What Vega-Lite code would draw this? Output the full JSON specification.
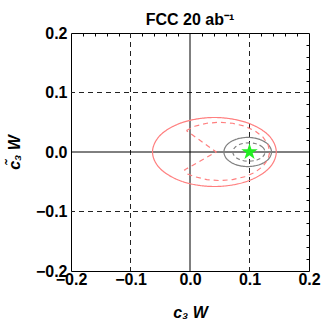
{
  "$schema": "https://vega.github.io/schema/vega-lite/v6.json",
  "width": 238,
  "height": 238,
  "autosize": "none",
  "padding": {"left": 71, "top": 33, "right": 12, "bottom": 53},
  "background": "white",
  "title": {"text": "FCC 20 ab⁻¹", "font": "Liberation Sans", "fontSize": 16, "fontWeight": "bold", "color": "black", "offset": -3},
  "config": {
    "view": {"stroke": "black", "strokeWidth": 1},
    "axis": {
      "labelFont": "Liberation Sans", "labelFontSize": 16, "labelFontWeight": "bold", "labelColor": "black",
      "titleFont": "Liberation Sans", "titleFontSize": 16, "titleFontWeight": "bold", "titleFontStyle": "italic", "titleColor": "black",
      "grid": false, "domain": false, "tickColor": "black", "tickWidth": 1, "labelOverlap": false, "labelBound": false, "labelFlush": false
    }
  },
  "datasets": {
    "curves": [
      {"curve": "red solid", "i": 0, "x": 0.145, "y": 0},
      {"curve": "red solid", "i": 1, "x": 0.1311, "y": 0.029},
      {"curve": "red solid", "i": 2, "x": 0.093, "y": 0.0502},
      {"curve": "red solid", "i": 3, "x": 0.041, "y": 0.058},
      {"curve": "red solid", "i": 4, "x": -0.011, "y": 0.0502},
      {"curve": "red solid", "i": 5, "x": -0.0491, "y": 0.029},
      {"curve": "red solid", "i": 6, "x": -0.063, "y": 0},
      {"curve": "red solid", "i": 7, "x": -0.0491, "y": -0.029},
      {"curve": "red solid", "i": 8, "x": -0.011, "y": -0.0502},
      {"curve": "red solid", "i": 9, "x": 0.041, "y": -0.058},
      {"curve": "red solid", "i": 10, "x": 0.093, "y": -0.0502},
      {"curve": "red solid", "i": 11, "x": 0.1311, "y": -0.029},
      {"curve": "gray solid", "i": 0, "x": 0.137, "y": 0},
      {"curve": "gray solid", "i": 1, "x": 0.1316, "y": 0.0123},
      {"curve": "gray solid", "i": 2, "x": 0.117, "y": 0.0212},
      {"curve": "gray solid", "i": 3, "x": 0.097, "y": 0.0245},
      {"curve": "gray solid", "i": 4, "x": 0.077, "y": 0.0212},
      {"curve": "gray solid", "i": 5, "x": 0.0624, "y": 0.0123},
      {"curve": "gray solid", "i": 6, "x": 0.057, "y": 0},
      {"curve": "gray solid", "i": 7, "x": 0.0624, "y": -0.0123},
      {"curve": "gray solid", "i": 8, "x": 0.077, "y": -0.0212},
      {"curve": "gray solid", "i": 9, "x": 0.097, "y": -0.0245},
      {"curve": "gray solid", "i": 10, "x": 0.117, "y": -0.0212},
      {"curve": "gray solid", "i": 11, "x": 0.1316, "y": -0.0123},
      {"curve": "gray dashed", "i": 0, "x": 0.126, "y": 0},
      {"curve": "gray dashed", "i": 1, "x": 0.1224, "y": 0.0078},
      {"curve": "gray dashed", "i": 2, "x": 0.1125, "y": 0.0134},
      {"curve": "gray dashed", "i": 3, "x": 0.099, "y": 0.0155},
      {"curve": "gray dashed", "i": 4, "x": 0.0855, "y": 0.0134},
      {"curve": "gray dashed", "i": 5, "x": 0.0756, "y": 0.0078},
      {"curve": "gray dashed", "i": 6, "x": 0.072, "y": 0},
      {"curve": "gray dashed", "i": 7, "x": 0.0756, "y": -0.0078},
      {"curve": "gray dashed", "i": 8, "x": 0.0855, "y": -0.0134},
      {"curve": "gray dashed", "i": 9, "x": 0.099, "y": -0.0155},
      {"curve": "gray dashed", "i": 10, "x": 0.1125, "y": -0.0134},
      {"curve": "gray dashed", "i": 11, "x": 0.1224, "y": -0.0078}
    ],
    "reddash": [
      {"i": 0, "x": -0.006, "y": 0.036},
      {"i": 1, "x": 0.008, "y": 0.0433},
      {"i": 2, "x": 0.0283, "y": 0.0483},
      {"i": 3, "x": 0.05, "y": 0.05},
      {"i": 4, "x": 0.0717, "y": 0.0483},
      {"i": 5, "x": 0.092, "y": 0.0433},
      {"i": 6, "x": 0.1094, "y": 0.0354},
      {"i": 7, "x": 0.1227, "y": 0.025},
      {"i": 8, "x": 0.1311, "y": 0.0129},
      {"i": 9, "x": 0.134, "y": 0},
      {"i": 10, "x": 0.1311, "y": -0.0124},
      {"i": 11, "x": 0.1227, "y": -0.024},
      {"i": 12, "x": 0.1094, "y": -0.034},
      {"i": 13, "x": 0.092, "y": -0.0416},
      {"i": 14, "x": 0.0717, "y": -0.0464},
      {"i": 15, "x": 0.05, "y": -0.048},
      {"i": 16, "x": 0.0283, "y": -0.0464},
      {"i": 17, "x": 0.008, "y": -0.0416},
      {"i": 18, "x": -0.004, "y": -0.037},
      {"i": 19, "x": -0.009, "y": -0.03},
      {"i": 20, "x": 0.044, "y": 0},
      {"i": 21, "x": -0.006, "y": 0.036}
    ]
  },
  "layer": [
    {
      "data": {"values": [{"x": -0.1}, {"x": 0.1}]},
      "mark": {"type": "rule", "color": "#222", "strokeDash": [5, 4], "strokeWidth": 1},
      "encoding": {
        "x": {"field": "x", "type": "quantitative",
          "scale": {"domain": [-0.2, 0.2], "nice": false, "zero": false},
          "axis": {"orient": "bottom", "title": "c₃ W", "titlePadding": 17,
            "values": [-0.2, -0.1, 0, 0.1, 0.2],
            "labelExpr": "replace(format(datum.value, '.1f'), '-', '−')",
            "ticks": false, "labelPadding": 0}
        }
      }
    },
    {
      "data": {"values": [{"y": -0.1}, {"y": 0.1}]},
      "mark": {"type": "rule", "color": "#222", "strokeDash": [5, 4], "strokeWidth": 1},
      "encoding": {
        "y": {"field": "y", "type": "quantitative",
          "scale": {"domain": [-0.2, 0.2], "nice": false, "zero": false},
          "axis": {"orient": "left", "title": "c̃₃ W", "titlePadding": 13,
            "values": [-0.2, -0.1, 0, 0.1, 0.2],
            "labelExpr": "replace(format(datum.value, '.1f'), '-', '−')",
            "ticks": false, "labelPadding": 4}
        }
      }
    },
    {
      "data": {"values": [{"x": 0}]},
      "mark": {"type": "rule", "color": "black", "strokeWidth": 1},
      "encoding": {"x": {"field": "x", "type": "quantitative",
        "axis": {"orient": "top", "title": null, "labels": false, "tickSize": -3,
          "values": [-0.18, -0.16, -0.14, -0.12, -0.08, -0.06, -0.04, -0.02, 0.02, 0.04, 0.06, 0.08, 0.12, 0.14, 0.16, 0.18]}}}
    },
    {
      "data": {"values": [{"y": 0}]},
      "mark": {"type": "rule", "color": "black", "strokeWidth": 1},
      "encoding": {"y": {"field": "y", "type": "quantitative",
        "axis": {"orient": "right", "title": null, "labels": false, "tickSize": -3,
          "values": [-0.18, -0.16, -0.14, -0.12, -0.08, -0.06, -0.04, -0.02, 0.02, 0.04, 0.06, 0.08, 0.12, 0.14, 0.16, 0.18]}}}
    },
    {
      "data": {"name": "curves"},
      "mark": {"type": "line", "interpolate": "cardinal-closed", "strokeWidth": 1.2},
      "encoding": {
        "x": {"field": "x", "type": "quantitative", "axis": null},
        "y": {"field": "y", "type": "quantitative", "axis": null},
        "order": {"field": "i", "type": "quantitative"},
        "detail": {"field": "curve"},
        "color": {"field": "curve", "type": "nominal", "legend": null,
          "scale": {"domain": ["red solid", "gray solid", "gray dashed"], "range": ["#ff7f7f", "#808080", "#808080"]}},
        "strokeDash": {"field": "curve", "type": "nominal", "legend": null,
          "scale": {"domain": ["red solid", "gray solid", "gray dashed"], "range": [[1, 0], [1, 0], [4, 3]]}}
      }
    },
    {
      "data": {"name": "reddash"},
      "mark": {"type": "line", "color": "#ff7f7f", "strokeDash": [5, 4], "strokeWidth": 1.2},
      "encoding": {
        "x": {"field": "x", "type": "quantitative", "axis": null},
        "y": {"field": "y", "type": "quantitative", "axis": null},
        "order": {"field": "i", "type": "quantitative"}
      }
    },
    {
      "data": {"values": [{"x": 0.1, "y": 0}]},
      "mark": {"type": "point", "filled": true, "color": "#22ee22", "opacity": 1, "size": 300,
        "shape": "M0,-1L0.2245,-0.309L0.951,-0.309L0.363,0.118L0.588,0.809L0,0.382L-0.588,0.809L-0.363,0.118L-0.951,-0.309L-0.2245,-0.309Z"},
      "encoding": {
        "x": {"field": "x", "type": "quantitative", "axis": null},
        "y": {"field": "y", "type": "quantitative", "axis": null}
      }
    }
  ]
}
